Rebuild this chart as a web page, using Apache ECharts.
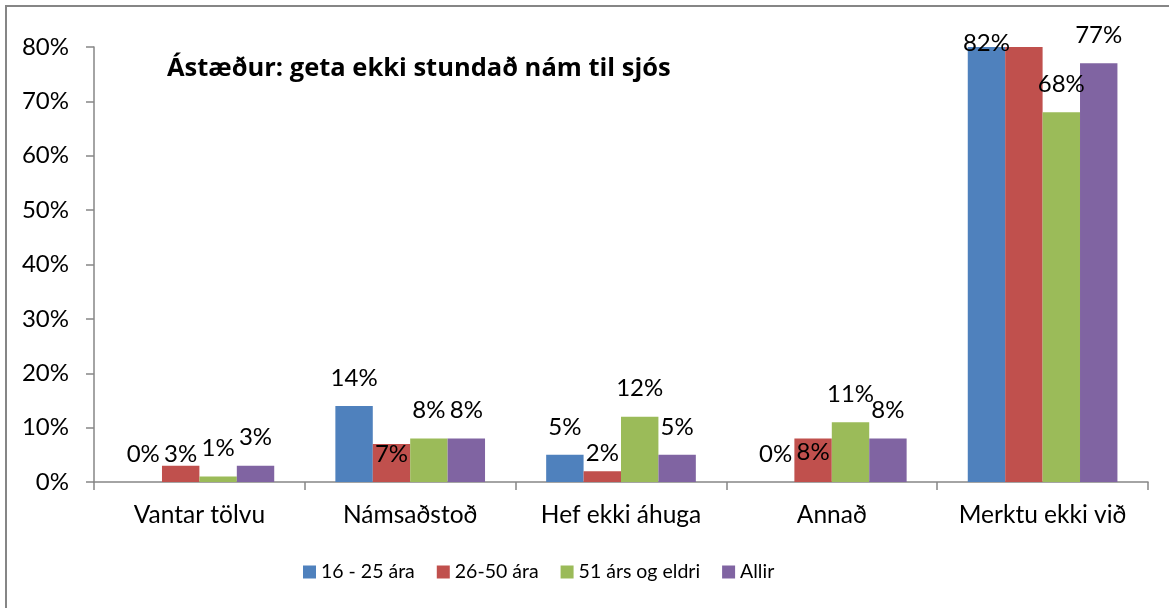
<!DOCTYPE html>
<html>
<head>
<meta charset="utf-8">
<script src="https://cdn.jsdelivr.net/npm/echarts@6/dist/echarts.min.js"></script>
<style>
    html, body { margin: 0; padding: 0; background: #fff; }
    #chart { width: 1169px; height: 608px; }
</style>
</head>
<body>
<div id="chart"></div>
<script>
// flokkar (x-ás)
var categories = ['Vantar tölvu', 'Námsaðstoð', 'Hef ekki áhuga', 'Annað', 'Merktu ekki við'];
var seriesNames = ['16 - 25 ára', '26-50 ára', '51 árs og eldri', 'Allir'];

// gildi í %
var age16to25 = [0, 14, 5, 0, 82];
var age26to50 = [3, 7, 2, 8, 80];
var age51plus = [1, 8, 12, 11, 68];
var allir = [3, 8, 5, 8, 77];

var yTicks = [0, 10, 20, 30, 40, 50, 60, 70, 80];

var colors = ['#4F81BD', '#C0504D', '#9BBB59', '#8064A2'];
var fontName = 'Lato';

// merkingar sem Excel færði til (series-flokkur -> dy), null = falin
var labelShift = {
    '1-0': 17,
    '1-1': 38,
    '1-2': 10,
    '1-3': 42,
    '1-4': null,
    '0-4': 24
};

function buildData(values, si) {
    return values.map(function(v, ci) {
        var key = si + '-' + ci;
        if (!(key in labelShift)) return v;
        if (labelShift[key] === null) {
            return { value: v, label: { show: false } };
        }
        return { value: v, label: { offset: [0, labelShift[key]] } };
    });
}

var allValues = [age16to25, age26to50, age51plus, allir];

var myChart = echarts.init(document.getElementById('chart'), null, { renderer: 'canvas' });

var option = {
    animation: false,
    textStyle: { fontFamily: fontName },
    graphic: [{
        type: 'rect',
        shape: { x: 6, y: 6, width: 1200, height: 700 },
        style: { fill: 'none', stroke: '#868686', lineWidth: 2 },
        z: -1
    }, {
        type: 'text',
        left: 167,
        top: 56,
        style: {
            text: 'Ástæður: geta ekki stundað nám til sjós',
            font: 'bold 25.5px "Open Sans"',
            fill: '#000'
        }
    }],
    legend: {
        left: 298,
        top: 557,
        itemWidth: 13,
        itemHeight: 13,
        itemGap: 22,
        icon: 'rect',
        textStyle: { fontSize: 19.5, color: '#000', fontFamily: fontName },
        data: seriesNames
    },
    grid: {
        left: 94,
        right: 21,
        top: 47,
        bottom: 126,
        containLabel: false
    },
    xAxis: {
        type: 'category',
        data: categories,
        axisLine: { lineStyle: { color: '#868686', width: 1.5 } },
        axisTick: { show: true, length: 8, lineStyle: { color: '#868686', width: 1.5 } },
        axisLabel: { color: '#000', fontSize: 24.5, margin: 21, interval: 0, fontFamily: fontName }
    },
    yAxis: {
        type: 'value',
        min: yTicks[0],
        max: yTicks[yTicks.length - 1],
        interval: 10,
        axisLine: { show: true, lineStyle: { color: '#868686', width: 1.5 } },
        axisTick: { show: true, length: 8, lineStyle: { color: '#868686', width: 1.5 } },
        splitLine: { show: false },
        axisLabel: {
            color: '#000',
            fontSize: 24,
            margin: 25,
            fontFamily: fontName,
            formatter: '{value}%'
        }
    },
    series: allValues.map(function(vals, si) {
        return {
            name: seriesNames[si],
            type: 'bar',
            data: buildData(vals, si),
            barGap: '0%',
            barCategoryGap: '29%',
            clip: true,
            itemStyle: { color: colors[si] },
            label: {
                show: true,
                position: 'top',
                distance: 16,
                color: '#000',
                fontSize: 24,
                fontFamily: fontName,
                formatter: '{c}%'
            }
        };
    })
};

myChart.setOption(option);
</script>
</body>
</html>
